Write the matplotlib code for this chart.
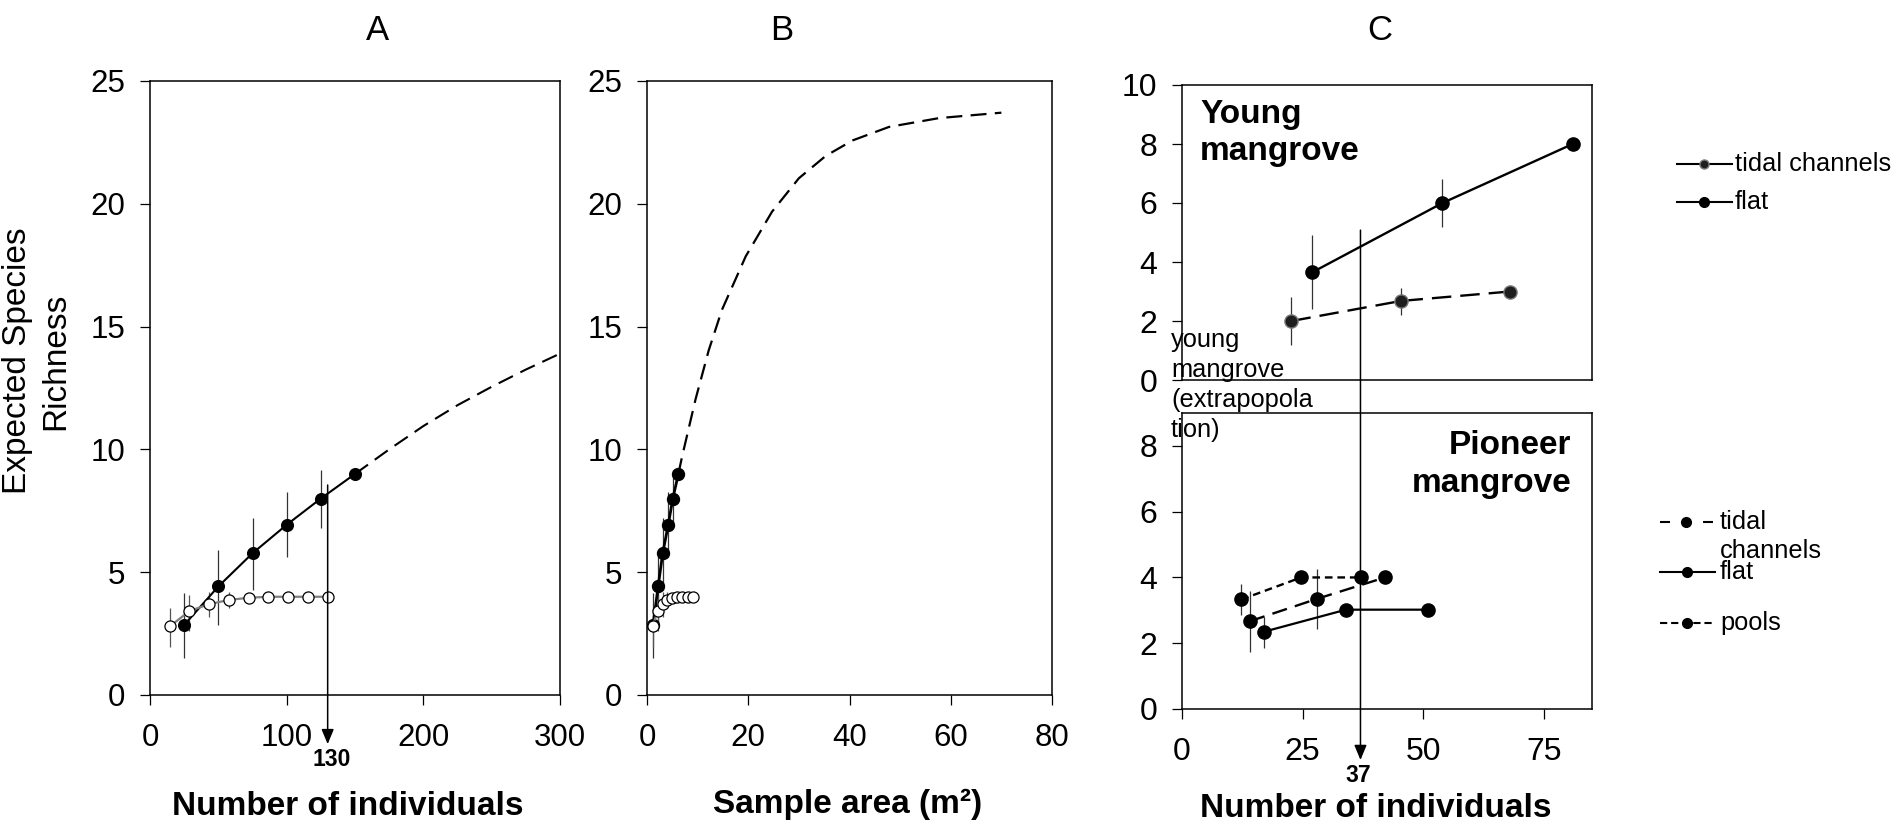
import matplotlib
matplotlib.use('Agg')
import matplotlib.pyplot as plt
from matplotlib.lines import Line2D
import numpy as np

plt.rcParams['font.family'] = ['Liberation Sans', 'DejaVu Sans']
plt.rcParams['lines.scale_dashes'] = False

# ---------------- Data ----------------
# Panel A : expected richness vs number of individuals
a_young_x = [25, 50, 75, 100, 125, 150]
a_young_y = [2.85, 4.42, 5.77, 6.93, 8.0, 9.0]
a_young_lo = [1.50, 2.86, 4.26, 5.60, 6.82, 9.0]
a_young_hi = [4.16, 5.91, 7.22, 8.25, 9.16, 9.0]
a_pion_x = [14.4, 28.9, 43.3, 57.8, 72.2, 86.7, 101.1, 115.6, 130]
a_pion_y = [2.79, 3.42, 3.70, 3.87, 3.96, 4.0, 4.0, 4.0, 4.0]
a_pion_lo = [1.97, 2.62, 3.19, 3.53, 3.96, 4.0, 4.0, 4.0, 4.0]
a_pion_hi = [3.53, 4.08, 4.21, 4.21, 3.96, 4.0, 4.0, 4.0, 4.0]
a_extrap_x = [150, 175, 200, 225, 250, 275, 300]
a_extrap_y = [9.0, 10.0, 10.95, 11.8, 12.55, 13.25, 13.9]

# Panel B : expected richness vs sample area
b_young_x = [1.2, 2.2, 3.1, 4.2, 5.1, 6.2]
b_pion_x = [1.1, 2.1, 3.1, 4.0, 5.0, 6.0, 7.0, 8.0, 9.1]
b_extrap_x = [6.2, 6.9, 9.6, 12.2, 14.8, 19.5, 24.7, 30.0, 35.3, 40.6, 47.8, 57.7, 70.0]
b_extrap_y = [9.0, 9.68, 12.05, 14.04, 15.68, 17.86, 19.68, 21.04, 21.95, 22.58, 23.13, 23.49, 23.71]

# Panel C (top) : young mangrove
ct_flat_x = [27, 54, 81]
ct_flat_y = [3.65, 6.0, 8.0]
ct_flat_lo = [2.42, 5.2, 8.0]
ct_flat_hi = [4.92, 6.81, 8.0]
ct_tidal_x = [22.7, 45.4, 68]
ct_tidal_y = [2.0, 2.68, 3.0]
ct_tidal_lo = [1.17, 2.19, 3.0]
ct_tidal_hi = [2.81, 3.13, 3.0]

# Panel C (bottom) : pioneer mangrove
cb_pools_x = [12.3, 24.7, 37.1]
cb_pools_y = [3.33, 4.0, 4.0]
cb_pools_lo = [2.87, 4.0, 4.0]
cb_pools_hi = [3.80, 4.0, 4.0]
cb_tidal_x = [14.1, 28.0, 42.1]
cb_tidal_y = [2.67, 3.35, 4.0]
cb_tidal_lo = [1.73, 2.42, 4.0]
cb_tidal_hi = [3.60, 4.26, 4.0]
cb_flat_x = [17.0, 34.0, 51.0]
cb_flat_y = [2.35, 3.02, 3.02]
cb_flat_lo = [1.86, 3.02, 3.02]
cb_flat_hi = [2.80, 3.02, 3.02]

# ---------------- Figure ----------------
W, H = 1901, 825
fig = plt.figure(figsize=(W / 100, H / 100), dpi=100)


def ax_px(l, t, r, b):
    return fig.add_axes([l / W, 1 - b / H, (r - l) / W, (b - t) / H])


def style(ax, fs):
    for s in ax.spines.values():
        s.set_linewidth(1.1)
        s.set_color('black')
    ax.tick_params(direction='out', length=7, width=0.9, labelsize=fs,
                   top=False, right=False)
    ax.tick_params(axis='x', pad=13)
    ax.tick_params(axis='y', pad=11)


def err(ax, x, y, lo, hi, color='#333333'):
    y = np.asarray(y)
    yerr = [y - np.asarray(lo), np.asarray(hi) - y]
    ax.errorbar(x, y, yerr=yerr, fmt='none', ecolor=color, elinewidth=0.9,
                capsize=0, zorder=2)


def fpx(x, y):
    return x / W, 1 - y / H


axA = ax_px(150, 81, 560, 695)
axB = ax_px(647, 81, 1052, 695)
axCt = ax_px(1182, 85, 1592, 380)
axCb = ax_px(1182, 413, 1592, 709)

# ---- Panel A ----
style(axA, 22.5)
err(axA, a_young_x, a_young_y, a_young_lo, a_young_hi)
err(axA, a_pion_x, a_pion_y, a_pion_lo, a_pion_hi, color='#555555')
axA.plot(a_extrap_x, a_extrap_y, color='black', lw=1.5, dashes=(11.5, 6), zorder=3)
axA.plot(a_young_x, a_young_y, '-o', color='black', lw=1.5, ms=8.4,
         mfc='black', mec='black', zorder=4)
axA.plot(a_pion_x, a_pion_y, '-o', color='#7f7f7f', lw=1.6, ms=8,
         mfc='white', mec='black', mew=0.9, zorder=5)
axA.set_xlim(0, 300)
axA.set_ylim(0, 25)
axA.set_xticks([0, 100, 200, 300])
axA.set_yticks([0, 5, 10, 15, 20, 25])
axA.annotate('', xy=(130, -2.0), xytext=(130, 8.55),
             arrowprops=dict(arrowstyle='-|>,head_length=0.6,head_width=0.25',
                             color='black', lw=1.1, shrinkA=0, shrinkB=0,
                             mutation_scale=15),
             annotation_clip=False, zorder=6)

# ---- Panel B ----
style(axB, 22.5)
err(axB, b_young_x, a_young_y, a_young_lo, a_young_hi)
err(axB, b_pion_x, a_pion_y, a_pion_lo, a_pion_hi, color='#555555')
axB.plot(b_extrap_x, b_extrap_y, color='black', lw=1.6, dashes=(11.5, 6), zorder=3)
axB.plot(b_young_x, a_young_y, '-o', color='black', lw=2.0, ms=8.6,
         mfc='black', mec='black', zorder=4)
axB.plot(b_pion_x, a_pion_y, '-o', color='#7f7f7f', lw=1.6, ms=8,
         mfc='white', mec='black', mew=0.9, zorder=5)
axB.set_xlim(0, 80)
axB.set_ylim(0, 25)
axB.set_xticks([0, 20, 40, 60, 80])
axB.set_yticks([0, 5, 10, 15, 20, 25])

# ---- Panel C top ----
style(axCt, 23)
err(axCt, ct_flat_x, ct_flat_y, ct_flat_lo, ct_flat_hi)
err(axCt, ct_tidal_x, ct_tidal_y, ct_tidal_lo, ct_tidal_hi)
axCt.plot(ct_flat_x, ct_flat_y, '-o', color='black', lw=1.7, ms=9.5,
          mfc='black', mec='black', zorder=4)
axCt.plot(ct_tidal_x, ct_tidal_y, '-o', color='black', lw=1.7, ms=9.5,
          dashes=(14, 6.5), mfc='#1e1e1e', mec='#7a7a7a', mew=1.0, zorder=4)
axCt.set_xlim(0, 85)
axCt.set_ylim(0, 10)
axCt.set_xticks([])
axCt.set_yticks([0, 2, 4, 6, 8, 10])

# ---- Panel C bottom ----
style(axCb, 23)
err(axCb, cb_pools_x, cb_pools_y, cb_pools_lo, cb_pools_hi)
err(axCb, cb_tidal_x, cb_tidal_y, cb_tidal_lo, cb_tidal_hi)
err(axCb, cb_flat_x, cb_flat_y, cb_flat_lo, cb_flat_hi)
axCb.plot(cb_pools_x, cb_pools_y, '-o', color='black', lw=1.7, ms=9.5,
          dashes=(5.5, 3.5), mfc='black', mec='black', zorder=4)
axCb.plot(cb_tidal_x, cb_tidal_y, '-o', color='black', lw=1.7, ms=9.5,
          dashes=(11, 6), mfc='black', mec='black', zorder=4)
axCb.plot(cb_flat_x, cb_flat_y, '-o', color='black', lw=1.6, ms=9.5,
          mfc='black', mec='black', zorder=4)
axCb.set_xlim(0, 85)
axCb.set_ylim(0, 9)
axCb.set_xticks([0, 25, 50, 75])
axCb.set_yticks([0, 2, 4, 6, 8])
axCb.annotate('', xy=(37, -1.55), xytext=(37, 5.08), textcoords=axCt.transData,
              arrowprops=dict(arrowstyle='-|>,head_length=0.6,head_width=0.25',
                              color='black', lw=1.1, shrinkA=0, shrinkB=0,
                              mutation_scale=15),
              annotation_clip=False, zorder=6)

# ---------------- Texts ----------------
for lbl, x in (('A', 377), ('B', 782), ('C', 1380)):
    fig.text(*fpx(x, 30), lbl, fontsize=25, ha='center', va='center')

fig.text(*fpx(348, 815), 'Number of individuals', fontsize=24, fontweight='bold',
         ha='center', va='baseline')
fig.text(*fpx(848, 813), 'Sample area (m²)', fontsize=24, fontweight='bold',
         ha='center', va='baseline')
fig.text(*fpx(1376, 817), 'Number of individuals', fontsize=24, fontweight='bold',
         ha='center', va='baseline')

fig.text(*fpx(18, 361), 'Expected Species', fontsize=24, rotation=90,
         ha='center', va='center')
fig.text(*fpx(56, 361), 'Richness', fontsize=24, rotation=90,
         ha='center', va='center')

fig.text(*fpx(332, 760), '130', fontsize=16.5, fontweight='bold',
         ha='center', va='center')
fig.text(*fpx(1358, 775), '37', fontsize=16.5, fontweight='bold',
         ha='center', va='center')

fig.text(*fpx(1200, 123), 'Young', fontsize=24, fontweight='bold',
         ha='left', va='baseline')
fig.text(*fpx(1200, 160), 'mangrove', fontsize=24, fontweight='bold',
         ha='left', va='baseline')
fig.text(*fpx(1571, 454), 'Pioneer', fontsize=24, fontweight='bold',
         ha='right', va='baseline')
fig.text(*fpx(1571, 492), 'mangrove', fontsize=24, fontweight='bold',
         ha='right', va='baseline')

for i, t in enumerate(['young', 'mangrove', '(extrapopola', 'tion)']):
    fig.text(*fpx(1171, 347 + 30 * i), t, fontsize=18.3, ha='left', va='baseline')

# ---------------- Legends (manual) ----------------
def leg_line(x0, x1, y, xm, dashes=None, mfc='black', mec='black', ms=7):
    kw = {}
    if dashes is not None:
        kw['dashes'] = dashes
    fig.add_artist(Line2D([x0 / W, x1 / W], [1 - y / H, 1 - y / H],
                          color='black', lw=1.5, transform=fig.transFigure, **kw))
    fig.add_artist(Line2D([xm / W], [1 - y / H], marker='o', ms=ms, mfc=mfc,
                          mec=mec, mew=1.0, ls='none', transform=fig.transFigure))


leg_line(1677, 1732, 164, 1704, mfc='#1e1e1e', mec='#7a7a7a', ms=6.5)
fig.text(*fpx(1735, 164), 'tidal channels', fontsize=18.3, ha='left', va='center')
leg_line(1677, 1732, 202, 1704)
fig.text(*fpx(1735, 202), 'flat', fontsize=18.3, ha='left', va='center')

leg_line(1660, 1713, 522, 1686, dashes=(7.2, 23.8))
fig.text(*fpx(1720, 522), 'tidal', fontsize=18.3, ha='left', va='center')
fig.text(*fpx(1720, 551), 'channels', fontsize=18.3, ha='left', va='center')
leg_line(1660, 1715, 572, 1687)
fig.text(*fpx(1720, 572), 'flat', fontsize=18.3, ha='left', va='center')
leg_line(1660, 1715, 623, 1687, dashes=(5.2, 2.8))
fig.text(*fpx(1720, 623), 'pools', fontsize=18.3, ha='left', va='center')

fig.savefig('out.png', dpi=100)
